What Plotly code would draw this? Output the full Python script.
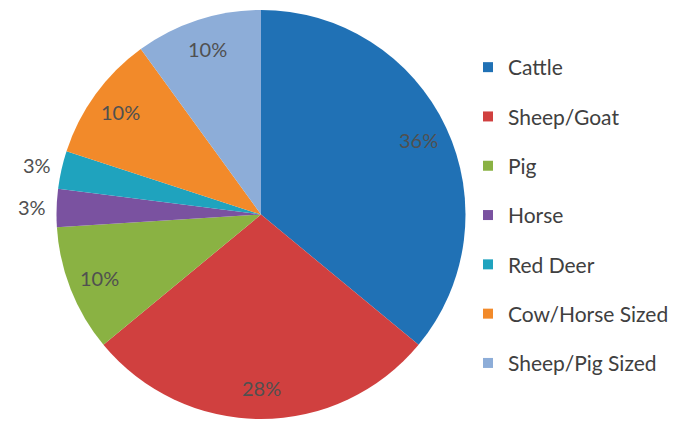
import math
import plotly.graph_objects as go

# Share of identified bone fragments by taxon
categories = ["Cattle", "Sheep/Goat", "Pig", "Horse", "Red Deer",
              "Cow/Horse Sized", "Sheep/Pig Sized"]
values = [36, 28, 10, 3, 3, 10, 10]
colors = ["#2071B5", "#D0403F", "#8AB243", "#7A52A0", "#1FA3BE",
          "#F28A2A", "#8DADD8"]
outside = {"Horse", "Red Deer"}

W, H = 680, 421
CX, CY, R = 261, 214.5, 204.5   # pie centre and radius in pixels
FONT = "Lato, 'Open Sans', sans-serif"
TEXT_COLOR = "#505050"

fig = go.Figure()
fig.add_trace(go.Pie(
    labels=categories,
    values=values,
    marker=dict(colors=colors, line=dict(width=0)),
    sort=False,
    direction="clockwise",
    rotation=0,
    textinfo="none",
    hoverinfo="label+percent",
    showlegend=False,
    domain=dict(x=[(CX - R) / W, (CX + R) / W],
                y=[(H - CY - R) / H, (H - CY + R) / H]),
))

# percentage labels placed along each slice's mid angle
total = sum(values)
cum = 0
for cat, v in zip(categories, values):
    mid = (cum + v / 2) / total * 2 * math.pi
    cum += v
    rr = 1.12 * R if cat in outside else 0.85 * R
    px = CX + rr * math.sin(mid)
    py = CY - rr * math.cos(mid)
    fig.add_annotation(
        x=px / W, y=1 - py / H, xref="paper", yref="paper",
        text=f"{round(v / total * 100)}%", showarrow=False,
        font=dict(family=FONT, size=20, color=TEXT_COLOR),
        xanchor="center", yanchor="middle",
    )

# legend entries, one group per category for even spacing
for i, (cat, col) in enumerate(zip(categories, colors)):
    fig.add_trace(go.Scatter(
        x=[None], y=[None], mode="markers", name=cat,
        legendgroup=f"g{i}",
        marker=dict(symbol="square", size=10, color=col),
        hoverinfo="skip",
    ))

fig.update_layout(
    width=W, height=H,
    margin=dict(l=0, r=0, t=0, b=0),
    paper_bgcolor="white", plot_bgcolor="white",
    xaxis=dict(visible=False), yaxis=dict(visible=False),
    legend=dict(
        x=468 / W, y=1 - 47 / H, xanchor="left", yanchor="top",
        font=dict(family=FONT, size=21, color="#404040"),
        tracegroupgap=19, itemwidth=30,
        bgcolor="rgba(0,0,0,0)",
    ),
)

fig.write_html("out.html")
